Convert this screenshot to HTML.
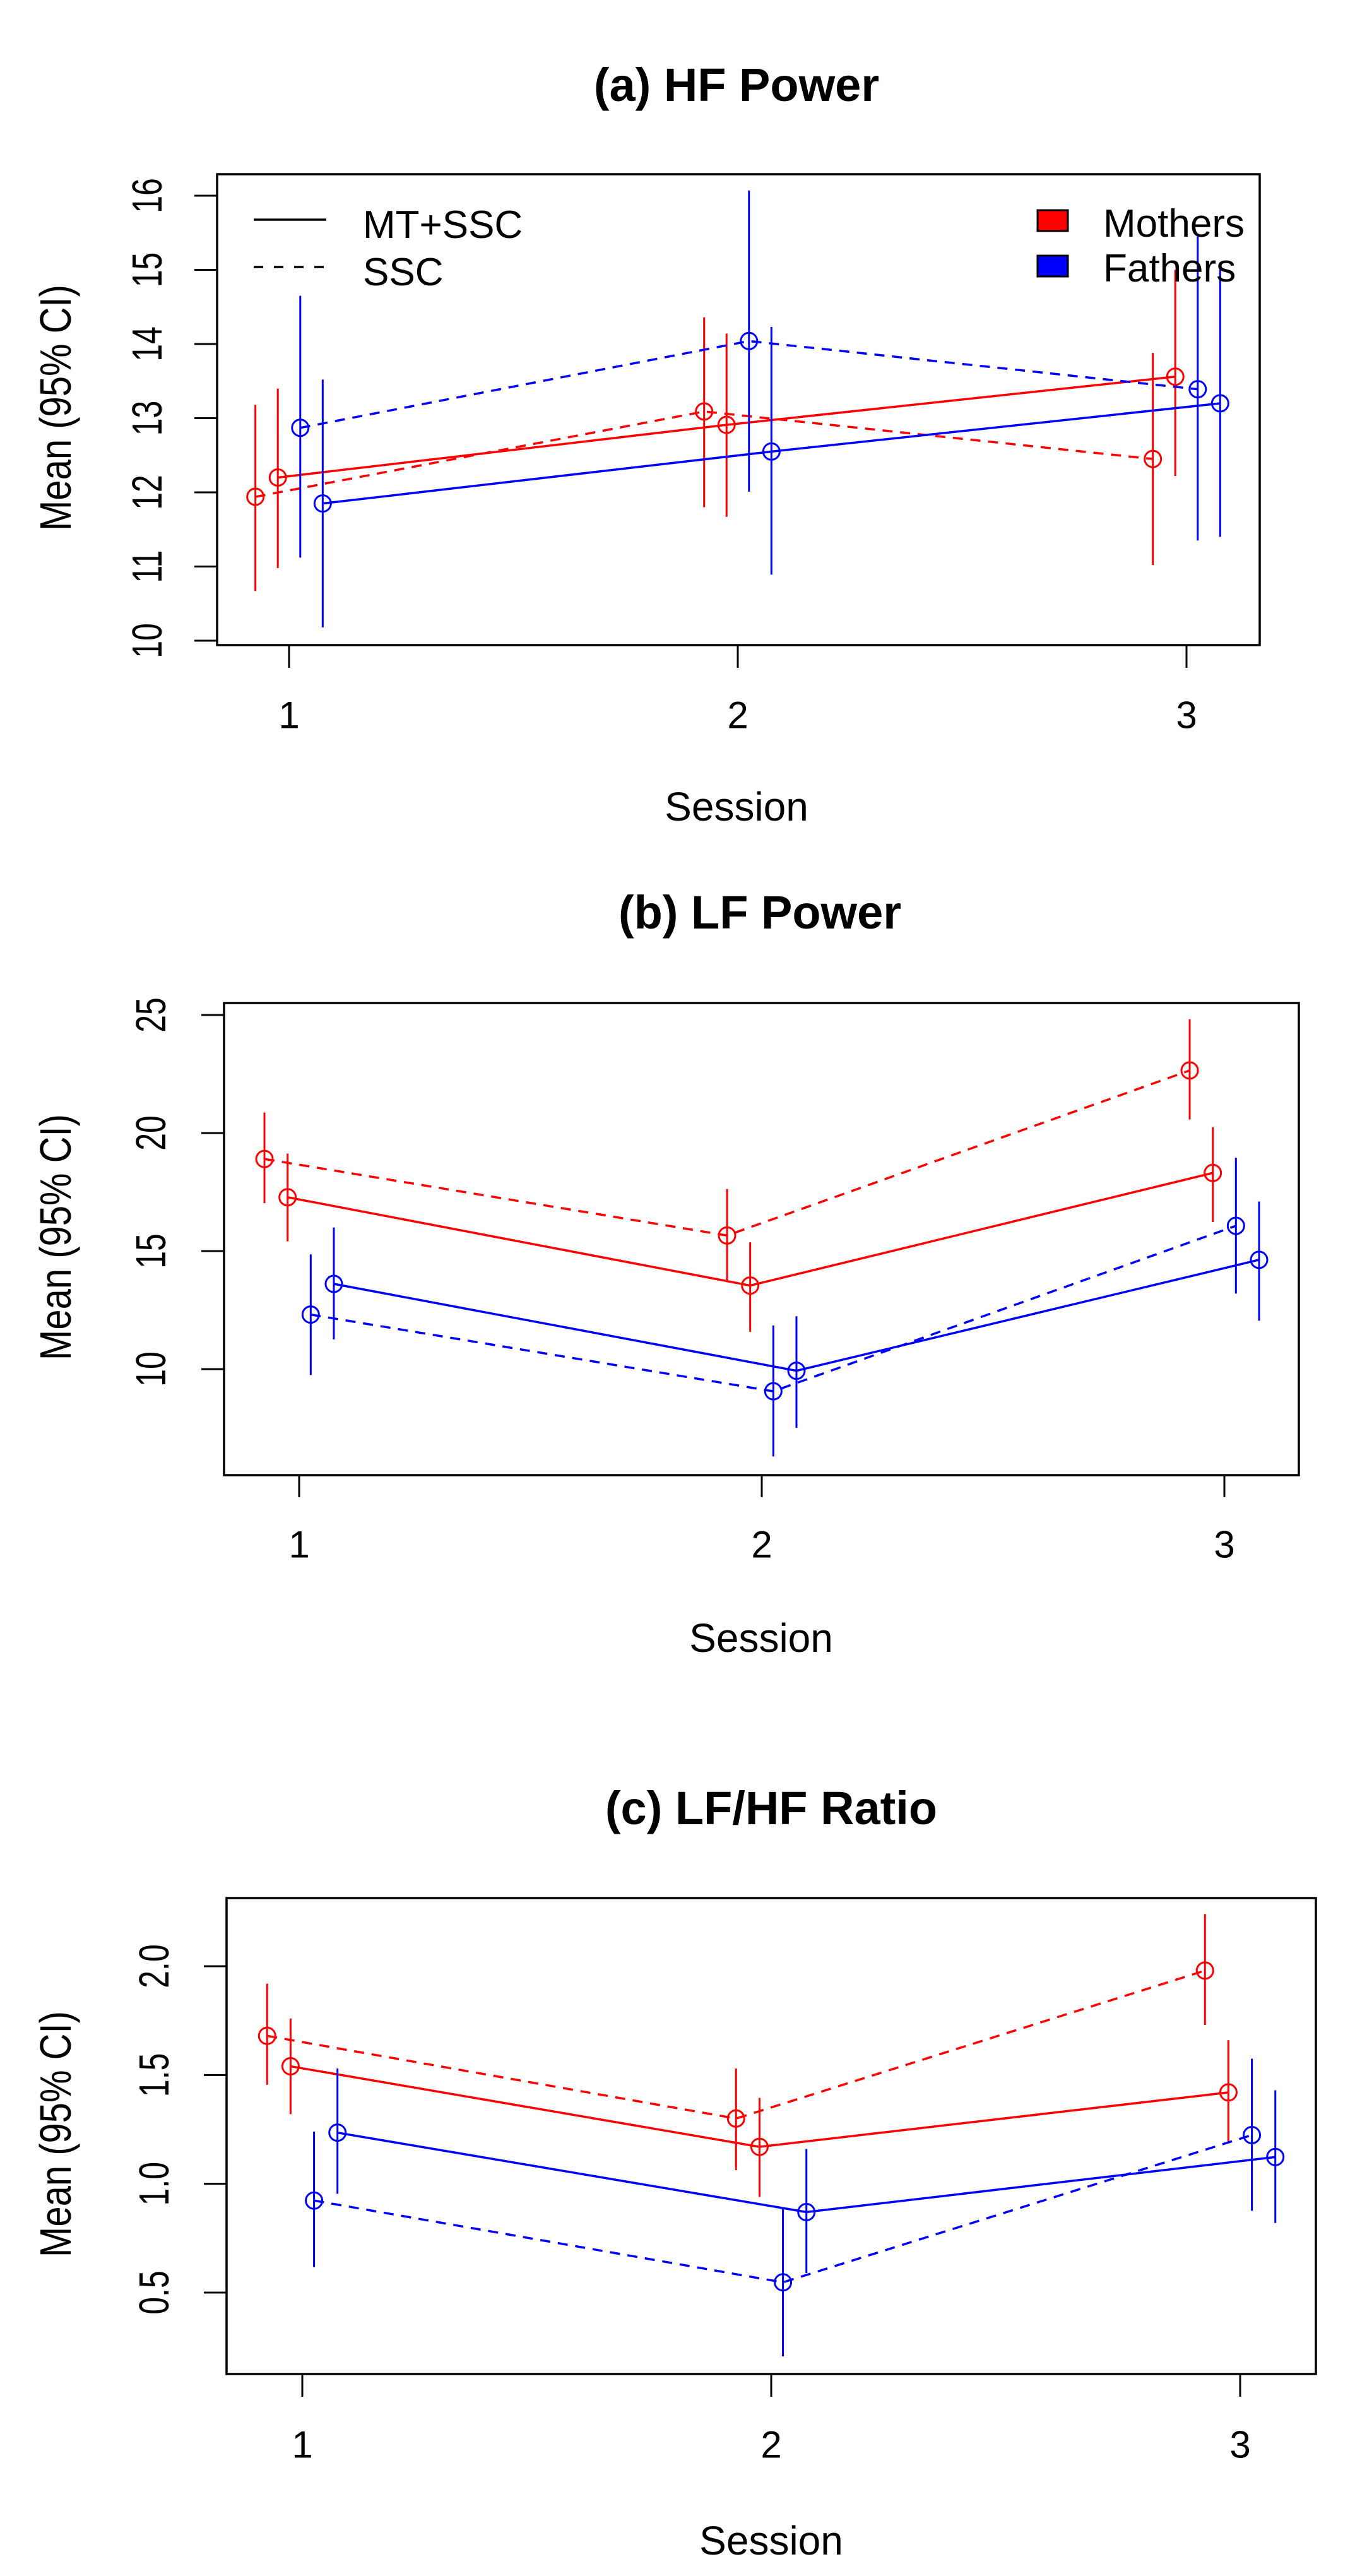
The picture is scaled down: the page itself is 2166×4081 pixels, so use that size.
<!DOCTYPE html>
<html><head><meta charset="utf-8"><style>
html,body{margin:0;padding:0;background:#fff;}
svg{display:block;font-family:"Liberation Sans",Arial,sans-serif;}
</style></head><body>
<svg id="chart" width="2166" height="4081" viewBox="0 0 2166 4081" xmlns="http://www.w3.org/2000/svg"></svg>
<script>
// ---- data ----
// series order: mothers SSC, mothers MT+SSC, fathers SSC, fathers MT+SSC
const sessions = [1, 2, 3];
const seriesNames = ["mothers-ssc", "mothers-mtssc", "fathers-ssc", "fathers-mtssc"];
const hfMean = [[11.94, 13.09, 12.45], [12.2, 12.91, 13.56], [12.87, 14.04, 13.39], [11.85, 12.55, 13.2]];
const hfLow  = [[10.67, 11.8, 11.02], [10.98, 11.67, 12.22], [11.12, 12.01, 11.35], [10.18, 10.89, 11.4]];
const hfHigh = [[13.18, 14.36, 13.88], [13.4, 14.14, 15.0], [14.65, 16.07, 15.45], [13.52, 14.23, 15.0]];
const hfTicks = [10, 11, 12, 13, 14, 15, 16];
const lfMean = [[18.9, 15.66, 22.65], [17.28, 13.54, 18.31], [12.31, 9.06, 16.07], [13.61, 9.93, 14.63]];
const lfLow  = [[17.03, 13.74, 20.57], [15.41, 11.58, 16.23], [9.75, 6.3, 13.2], [11.26, 7.51, 12.05]];
const lfHigh = [[20.87, 17.63, 24.82], [19.13, 15.37, 20.25], [14.86, 11.85, 18.95], [16.0, 12.24, 17.1]];
const lfTicks = [10, 15, 20, 25];
const ratioMean = [[1.68, 1.30, 1.98], [1.54, 1.17, 1.42], [0.923, 0.547, 1.224], [1.235, 0.87, 1.123]];
const ratioLow  = [[1.455, 1.063, 1.73], [1.32, 0.94, 1.193], [0.617, 0.207, 0.876], [0.954, 0.59, 0.82]];
const ratioHigh = [[1.92, 1.53, 2.24], [1.76, 1.395, 1.66], [1.24, 0.89, 1.575], [1.53, 1.16, 1.43]];
const ratioTicks = [0.5, 1.0, 1.5, 2.0];
const ratioTickLabels = ["0.5", "1.0", "1.5", "2.0"];
const seriesOffsets = [-0.075, -0.025, 0.025, 0.075];
const seriesColors = ["#ff0000", "#ff0000", "#0000ff", "#0000ff"];
const seriesDashed = [true, false, true, false];

const NS = "http://www.w3.org/2000/svg";
const svg = document.getElementById("chart");
function mk(tag, attrs, parent, text) {
  const e = document.createElementNS(NS, tag);
  for (const k in attrs) e.setAttribute(k, attrs[k]);
  if (text !== undefined) e.textContent = text;
  (parent || svg).appendChild(e);
  return e;
}

function panel(p) {
  const g = mk("g", {});
  
  
  const xs = s => p.x1 + (s - 1) * (p.x3 - p.x1) / 2;
  const ys = v => p.yA + (v - p.vA) * (p.yB - p.yA) / (p.vB - p.vA);

  const t = mk("text", {x: p.tx, y: p.ty, "text-anchor": "middle", "font-size": 74, "font-weight": "bold"}, g, p.title);
  
  

  const box = mk("rect", {x: p.L, y: p.T, width: p.R - p.L, height: p.B - p.T, fill: "none", stroke: "#000", "stroke-width": 3.5}, g);
  
  

  const ya = mk("g", {}, g);
  
  
  const tks = p.ticks;
  mk("line", {x1: p.L, x2: p.L, y1: ys(tks[0]), y2: ys(tks[tks.length - 1]), stroke: "#000", "stroke-width": 3}, ya);
  tks.forEach((v, i) => {
    const y = ys(v);
    mk("line", {x1: p.L - 36, x2: p.L, y1: y, y2: y, stroke: "#000", "stroke-width": 3}, ya);
    const lb = mk("text", {x: 0, y: 0, transform: `translate(${p.tlx},${y}) rotate(-90) scale(1,1.33)`, "text-anchor": "middle", "dominant-baseline": "central", "font-size": 50}, ya, p.tickLabels ? p.tickLabels[i] : String(v));
    
    
  });
  const yl = mk("text", {x: 0, y: 0, transform: `translate(88,${p.yly}) rotate(-90) scale(1,1.2)`, "text-anchor": "middle", "dominant-baseline": "central", "font-size": 58}, g, "Mean (95% CI)");
  
  

  const xa = mk("g", {}, g);
  
  
  sessions.forEach(s => {
    const x = xs(s);
    mk("line", {x1: x, x2: x, y1: p.B, y2: p.tickB, stroke: "#000", "stroke-width": 3}, xa);
    const lb = mk("text", {x: x, y: p.xly, "text-anchor": "middle", "dominant-baseline": "central", "font-size": 60}, xa, String(s));
    
    
  });
  const xl = mk("text", {x: p.sx, y: p.sy, "text-anchor": "middle", "dominant-baseline": "central", "font-size": 64}, g, "Session");
  
  

  seriesNames.forEach((nm, k) => {
    const sg = mk("g", {}, g);
    
    
    const pts = sessions.map((s, j) => [xs(s + seriesOffsets[k]), ys(p.mean[k][j])]);
    const ln = mk("polyline", {points: pts.map(q => q.join(",")).join(" "), fill: "none", stroke: seriesColors[k], "stroke-width": 3.5}, sg);
    if (seriesDashed[k]) ln.setAttribute("stroke-dasharray", "16 12");
    
    
    sessions.forEach((s, j) => {
      const x = xs(s + seriesOffsets[k]);
      const eb = mk("line", {x1: x, x2: x, y1: ys(p.low[k][j]), y2: ys(p.high[k][j]), stroke: seriesColors[k], "stroke-width": 3}, sg);
      
      
      const c = mk("circle", {cx: x, cy: ys(p.mean[k][j]), r: 13, fill: "none", stroke: seriesColors[k], "stroke-width": 3}, sg);
      
      
    });
  });

  if (p.legend) {
    const lg = mk("g", {}, g);
    
    
    mk("line", {x1: 402, x2: 517, y1: 348, y2: 348, stroke: "#000", "stroke-width": 3.5}, lg);
    mk("line", {x1: 402, x2: 517, y1: 423, y2: 423, stroke: "#000", "stroke-width": 3.5, "stroke-dasharray": "15 17"}, lg);
    mk("text", {x: 575, y: 377, "font-size": 62}, lg, "MT+SSC");
    mk("text", {x: 575, y: 452, "font-size": 62}, lg, "SSC");
    mk("rect", {x: 1644, y: 333, width: 48, height: 33, fill: "#ff0000", stroke: "#000", "stroke-width": 3}, lg);
    mk("rect", {x: 1644, y: 405, width: 48, height: 33, fill: "#0000ff", stroke: "#000", "stroke-width": 3}, lg);
    mk("text", {x: 1748, y: 375, "font-size": 62}, lg, "Mothers");
    mk("text", {x: 1748, y: 446, "font-size": 62}, lg, "Fathers");
  }
}

panel({name: "panel-a-hf-power", title: "(a) HF Power", tx: 1167, ty: 160,
  L: 344, R: 1996, T: 276, B: 1022, x1: 458, x3: 1880, tickB: 1058, tlx: 234,
  yA: 1015, vA: 10, yB: 310, vB: 16, ticks: hfTicks, yly: 646, xly: 1133, sx: 1167, sy: 1278,
  mean: hfMean, low: hfLow, high: hfHigh, legend: true});
panel({name: "panel-b-lf-power", title: "(b) LF Power", tx: 1204, ty: 1471,
  L: 355, R: 2058, T: 1589, B: 2337, x1: 474, x3: 1940, tickB: 2372, tlx: 240,
  yA: 2169, vA: 10, yB: 1608, vB: 25, ticks: lfTicks, yly: 1960, xly: 2447, sx: 1206, sy: 2595,
  mean: lfMean, low: lfLow, high: lfHigh});
panel({name: "panel-c-lf-hf-ratio", title: "(c) LF/HF Ratio", tx: 1222, ty: 2890,
  L: 359, R: 2085, T: 3007, B: 3761, x1: 479, x3: 1965, tickB: 3797, tlx: 245,
  yA: 3632, vA: 0.5, yB: 3115, vB: 2.0, ticks: ratioTicks, tickLabels: ratioTickLabels, yly: 3381, xly: 3873, sx: 1222, sy: 4025,
  mean: ratioMean, low: ratioLow, high: ratioHigh});
</script>
</body></html>
